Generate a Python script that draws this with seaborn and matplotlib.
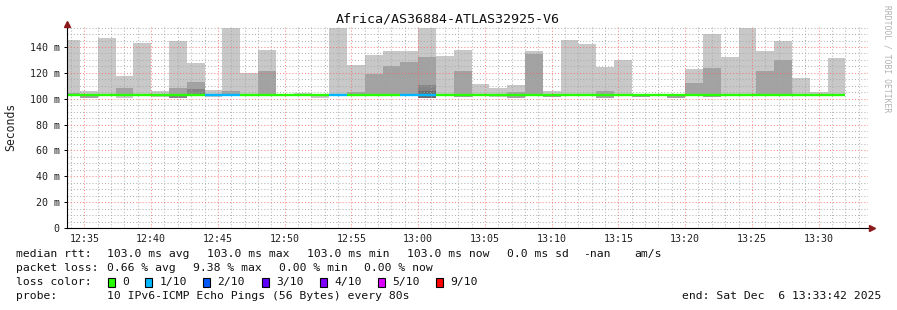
import numpy as np
import pandas as pd
import matplotlib
matplotlib.use("Agg")
import matplotlib.pyplot as plt
import matplotlib.dates as mdates
from matplotlib.ticker import MultipleLocator, FixedLocator, FixedFormatter
from matplotlib.patches import Rectangle
import seaborn as sns

# ---------------- data ----------------
title = "Africa/AS36884-ATLAS32925-V6"
bin_start = pd.date_range("2025-12-06 12:33:20", periods=44, freq="80s")
step_seconds = 80
view_start = pd.Timestamp("2025-12-06 12:33:42")
view_end = pd.Timestamp("2025-12-06 13:33:42")

smoke_lo = [102.5, 100.7, 102.0, 100.8, 102.5, 101.7, 100.7, 102.5, 101.6, 102.5,
            102.5, 102.5, 101.8, 102.5, 100.8, 102.5, 102.5, 102.5, 102.5, 102.5,
            100.5, 102.5, 101.3, 102.5, 101.5, 100.5, 102.0, 101.3, 102.5, 102.0,
            100.5, 102.5, 101.3, 102.6, 100.8, 102.5, 101.3, 102.5, 102.5, 102.5,
            102.5, 102.5, 102.5, 102.5]
smoke_hi = [145.4, 105.7, 147.0, 117.6, 143.0, 105.8, 144.6, 127.6, 106.7, 154.8,
            119.6, 137.7, 104.0, 104.6, 103.6, 154.8, 126.0, 133.8, 136.9, 136.9,
            154.8, 133.0, 137.7, 111.4, 108.3, 110.6, 136.9, 106.0, 145.4, 142.3,
            124.5, 130.0, 103.8, 103.3, 103.3, 123.0, 150.0, 132.3, 154.8, 136.9,
            144.6, 116.0, 105.2, 131.5]
nan = np.nan
mid_lo = [102.2, 100.7, nan, 102.2, nan, nan, 100.7, 102.2, nan, 102.2,
          nan, 102.2, nan, nan, nan, nan, 102.2, 102.2, 102.2, 102.2,
          100.5, nan, 101.3, nan, nan, 100.5, 102.2, 101.3, nan, 102.0,
          100.5, nan, 101.3, nan, 100.8, 102.2, 101.3, nan, nan, 102.2,
          102.2, nan, nan, nan]
mid_hi = [104.4, 103.8, nan, 108.3, nan, nan, 108.3, 112.9, nan, 106.0,
          nan, 121.4, nan, nan, nan, nan, 105.2, 119.1, 125.3, 128.4,
          132.3, nan, 121.4, nan, nan, 105.2, 134.6, 103.8, nan, 104.0,
          106.0, nan, 103.8, nan, 103.8, 112.1, 123.7, nan, nan, 121.4,
          130.0, nan, nan, nan]
dark_lo = [nan] * 6 + [100.7, 102.3] + [nan] * 12 + [100.5] + [nan] * 23
dark_hi = [nan] * 6 + [102.2, 107.5] + [nan] * 12 + [110.6] + [nan] * 23
darkest_lo = [nan] * 20 + [100.5] + [nan] * 23
darkest_hi = [nan] * 20 + [106.0] + [nan] * 23

median_rtt = [103.0] * 44
loss_tenths = [0] * 44
for i in (8, 9, 15, 19, 20):
    loss_tenths[i] = 1

loss_levels = [0, 1, 2, 3, 4, 5, 9]
loss_labels = ["0", "1/10", "2/10", "3/10", "4/10", "5/10", "9/10"]
loss_colors = ["#26ff00", "#00b8ff", "#0059ff", "#5e00ff", "#7e00ff", "#dd00ff", "#ff0000"]

ytick_values = [0, 20, 40, 60, 80, 100, 120, 140]
ytick_labels = ["0", "20 m", "40 m", "60 m", "80 m", "100 m", "120 m", "140 m"]
ymax = 155.7

# ---------------- styling ----------------
sns.set_theme(style="white")
mono = ["DejaVu Sans Mono"]
plt.rcParams["font.family"] = mono

W, H = 897, 310
fig = plt.figure(figsize=(W / 100, H / 100), dpi=100)
fig.patch.set_facecolor("white")
ax = fig.add_axes([67 / W, (H - 228) / H, 801 / W, (228 - 26.7) / H])
ax.set_facecolor("white")

x0 = mdates.date2num(bin_start)
w = step_seconds / 86400.0

lo = np.array(smoke_lo); hi = np.array(smoke_hi)
ax.bar(x0, hi - lo, bottom=lo, width=w, align="edge", color="#c8c8c8", linewidth=0, zorder=2)
mlo = np.array(mid_lo); mhi = np.array(mid_hi)
m = ~np.isnan(mhi)
ax.bar(x0[m], (mhi - mlo)[m], bottom=mlo[m], width=w, align="edge", color="#a2a2a2", linewidth=0, zorder=2.1)
dlo = np.array(dark_lo); dhi = np.array(dark_hi)
m = ~np.isnan(dhi)
ax.bar(x0[m], (dhi - dlo)[m], bottom=dlo[m], width=w, align="edge", color="#858585", linewidth=0, zorder=2.2)
klo = np.array(darkest_lo); khi = np.array(darkest_hi)
m = ~np.isnan(khi)
ax.bar(x0[m], (khi - klo)[m], bottom=klo[m], width=w, align="edge", color="#6a6a6a", linewidth=0, zorder=2.3)

color_map = dict(zip(loss_levels, loss_colors))
seg_colors = [color_map[v] for v in loss_tenths]
ax.hlines(median_rtt, x0, x0 + w, colors=seg_colors, linewidth=1.7, zorder=4)

ax.set_xlim(mdates.date2num(view_start), mdates.date2num(view_end))
ax.set_ylim(0, ymax)

ax.xaxis.set_major_locator(mdates.MinuteLocator(byminute=range(0, 60, 5)))
ax.xaxis.set_minor_locator(mdates.MinuteLocator())
ax.xaxis.set_major_formatter(mdates.DateFormatter("%H:%M"))
ax.yaxis.set_major_locator(FixedLocator(ytick_values))
ax.yaxis.set_major_formatter(FixedFormatter(ytick_labels))
ax.yaxis.set_minor_locator(MultipleLocator(5))

ax.grid(which="minor", color="#a8a8a8", alpha=0.85, linestyle=(0, (1, 2)), linewidth=0.75, zorder=3)
ax.grid(which="major", color="#ff6060", alpha=0.75, linestyle=(0, (1, 2)), linewidth=0.75, zorder=3)
ax.set_axisbelow(False)

for s in ("top", "right"):
    ax.spines[s].set_visible(False)
for s in ("left", "bottom"):
    ax.spines[s].set_color("black")
    ax.spines[s].set_linewidth(0.8)
    ax.spines[s].set_zorder(5)

ax.tick_params(axis="y", which="major", length=2.5, width=0.7, color="black", pad=2.8,
               labelsize=7.2, labelcolor="#202020", left=True)
ax.tick_params(axis="y", which="minor", length=0)
ax.tick_params(axis="x", which="major", length=0, pad=4, labelsize=7.2, labelcolor="#202020", bottom=True)
ax.tick_params(axis="x", which="minor", length=0)
for lab in ax.get_xticklabels() + ax.get_yticklabels():
    lab.set_family(mono)

ax.set_ylabel("Seconds", fontsize=8.3, color="#202020", family=mono)
ax.yaxis.set_label_coords((17 - 67) / 801, 0.5)

# axis arrows
arrow_c = "#8b1a1a"
ax.plot([0], [1.0 + 3.0 / 201], marker="^", markersize=4.5, color=arrow_c, transform=ax.transAxes,
        clip_on=False, zorder=6)
ax.plot([0, 0], [1.0, 1.0 + 3.0 / 201], color="black", lw=0.8, transform=ax.transAxes, clip_on=False)
ax.plot([1.0, 1.0 + 3.0 / 801], [0, 0], color="black", lw=0.8, transform=ax.transAxes, clip_on=False)
ax.plot([1.0 + 4.0 / 801], [0], marker=">", markersize=4.5, color=arrow_c, transform=ax.transAxes,
        clip_on=False, zorder=6)

# title and side text
fig.text(448 / W, 1 - 19.5 / H, title, ha="center", va="center", fontsize=9.6, color="#101010", family=mono)
fig.text(887 / W, 1 - 59 / H, "RRDTOOL / TOBI OETIKER", rotation=270, ha="center", va="center",
         fontsize=5.8, color="#b0b0b0", family=mono)

# legend text
fs = 8.2
tc = "#101010"
def ftext(xpx, ypx, s, ha="left"):
    fig.text(xpx / W, 1 - ypx / H, s, ha=ha, va="center", fontsize=fs, color=tc, family=mono)

line1 = [(16, "median rtt:"), (107, "103.0 ms avg"), (207, "103.0 ms max"), (307, "103.0 ms min"),
         (407, "103.0 ms now"), (507, "0.0 ms sd"), (583, "-nan"), (634, "am/s")]
line2 = [(16, "packet loss:"), (107, "0.66 % avg"), (193, "9.38 % max"), (279, "0.00 % min"),
         (364, "0.00 % now")]
for xp, s in line1:
    ftext(xp, 254, s)
for xp, s in line2:
    ftext(xp, 268, s)
ftext(16, 282, "loss color:")
box_x = [108, 145, 203, 262, 320, 378, 436]
for bx, lab, col in zip(box_x, loss_labels, loss_colors):
    fig.patches.append(Rectangle((bx / W, 1 - 286.5 / H), 7 / W, 9 / H, transform=fig.transFigure,
                                 facecolor=col, edgecolor="black", linewidth=0.8))
    ftext(bx + 14.5, 282, lab)
ftext(16, 296, "probe:")
ftext(107, 296, "10 IPv6-ICMP Echo Pings (56 Bytes) every 80s")
ftext(881, 296, "end: Sat Dec  6 13:33:42 2025", ha="right")

fig.savefig("out.png", dpi=100, facecolor="white")
